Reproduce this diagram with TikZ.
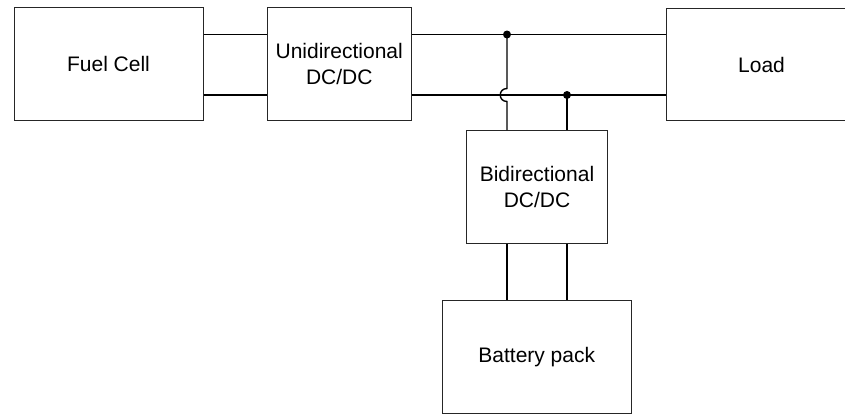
\documentclass[tikz,border=0pt]{standalone}
\usepackage{fontspec}
\setmainfont{Liberation Sans}
\begin{document}
\begin{tikzpicture}[x=1pt,y=-1pt,
  box/.style={draw=black!85, line width=1pt, fill=white, inner sep=0pt, align=center,
    font=\fontsize{21}{26}\selectfont},
  wire/.style={line width=1.4pt},
  thickwire/.style={line width=2.2pt},
  jdot/.style={circle, fill=black, inner sep=0pt, minimum size=8pt}]
\useasboundingbox (0,0) rectangle (845,415);
\node[box, minimum width=189pt, minimum height=112.5pt] (fc) at (108.5,64) {Fuel Cell};
\node[box, minimum width=143.5pt, minimum height=112.5pt] (ud) at (339.25,64) {Unidirectional\\DC/DC};
\node[box, minimum width=190pt, minimum height=112.5pt] (ld) at (761.5,64.5) {Load};
\node[box, minimum width=141pt, minimum height=113pt] (bd) at (537,187) {Bidirectional\\DC/DC};
\node[box, minimum width=188.5pt, minimum height=113pt] (bp) at (536.75,357) {Battery pack};
\coordinate (ytop) at (0,34.5);
\coordinate (ybot) at (0,95);
\coordinate (j1) at (507,34.5);
\coordinate (j2) at (567,95);
\coordinate (h1) at (507,88.5);
\coordinate (h2) at (507,101.5);
\draw[wire] (fc.east|-ytop) -- (ud.west|-ytop);
\draw[thickwire] (fc.east|-ybot) -- (ud.west|-ybot);
\draw[wire] (ud.east|-ytop) -- (ld.west|-ytop);
\draw[wire] (ud.east|-ybot) -- (ld.west|-ybot);
\draw[wire] (j1) -- (h1) .. controls (498,88.5) and (498,101.5) .. (h2) -- (j1|-bd.north);
\draw[wire] (j2) -- (j2|-bd.north);
\draw[wire] (j1|-bd.south) -- (j1|-bp.north);
\draw[wire] (j2|-bd.south) -- (j2|-bp.north);
\node[jdot] (d1) at (j1) {};
\node[jdot] (d2) at (j2) {};
\end{tikzpicture}
\end{document}
